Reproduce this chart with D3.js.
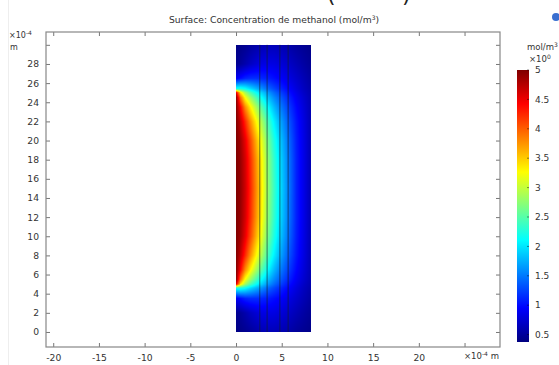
<!DOCTYPE html>
<html>
<head>
<meta charset="utf-8">
<script src="https://cdn.jsdelivr.net/npm/d3@7"></script>
<style>
  body { margin: 0; background: #fff; }
  svg text { font-family: "DejaVu Sans", sans-serif; fill: #333; }
</style>
</head>
<body>
<div id="chart"></div>
<script>
// axis ticks (units of 1e-4 m)
const xTicks = [-20, -15, -10, -5, 0, 5, 10, 15, 20, 25];
const yTicks = [0, 2, 4, 6, 8, 10, 12, 14, 16, 18, 20, 22, 24, 26, 28, 30];
const colorTicks = [0.5, 1, 1.5, 2, 2.5, 3, 3.5, 4, 4.5, 5];

// domain outline and internal layer boundaries
const domainRect = [0, 8.2, 0, 30];
const layerLines = [2.6, 3.4, 4.8, 5.7];

// concentration (mol/m3), on a sample grid
const gridX = [0, 0.5, 1, 1.6, 2.2, 2.8, 3.4, 4.2, 5, 5.8, 6.6, 7.4, 8.2];
const gridY = [0, 2, 3.5, 4.6, 5.0, 5.5, 6.5, 8, 10, 12, 15, 18, 20, 22, 23.5, 24.5, 25, 25.4, 26.5, 28, 30];
const conc = [
  [0.4, 0.42, 0.45, 0.5, 0.55, 0.6, 0.63, 0.63, 0.6, 0.56, 0.5, 0.46, 0.42],
  [0.45, 0.5, 0.58, 0.68, 0.76, 0.82, 0.84, 0.82, 0.77, 0.7, 0.62, 0.54, 0.47],
  [0.9, 1.0, 1.1, 1.15, 1.15, 1.12, 1.08, 1.0, 0.92, 0.82, 0.72, 0.62, 0.52],
  [2.2, 2.25, 2.15, 1.95, 1.78, 1.62, 1.45, 1.27, 1.1, 0.95, 0.8, 0.67, 0.56],
  [4.6, 3.4, 2.85, 2.45, 2.15, 1.9, 1.68, 1.43, 1.22, 1.02, 0.85, 0.7, 0.58],
  [5.0, 3.9, 3.25, 2.8, 2.45, 2.12, 1.86, 1.57, 1.33, 1.1, 0.9, 0.74, 0.59],
  [5.0, 4.4, 3.8, 3.3, 2.88, 2.5, 2.15, 1.78, 1.48, 1.21, 0.97, 0.78, 0.6],
  [5.0, 4.68, 4.25, 3.75, 3.3, 2.88, 2.47, 2.03, 1.66, 1.33, 1.04, 0.82, 0.6],
  [5.0, 4.84, 4.53, 4.08, 3.62, 3.17, 2.7, 2.22, 1.8, 1.43, 1.08, 0.84, 0.6],
  [5.0, 4.88, 4.62, 4.2, 3.75, 3.3, 2.81, 2.31, 1.87, 1.48, 1.1, 0.85, 0.6],
  [5.0, 4.9, 4.65, 4.25, 3.8, 3.35, 2.85, 2.35, 1.9, 1.5, 1.1, 0.85, 0.6],
  [5.0, 4.88, 4.62, 4.2, 3.75, 3.3, 2.81, 2.31, 1.87, 1.48, 1.1, 0.85, 0.6],
  [5.0, 4.84, 4.53, 4.08, 3.62, 3.17, 2.7, 2.22, 1.8, 1.43, 1.08, 0.84, 0.6],
  [5.0, 4.68, 4.25, 3.75, 3.3, 2.88, 2.47, 2.03, 1.66, 1.33, 1.04, 0.82, 0.6],
  [5.0, 4.4, 3.8, 3.3, 2.88, 2.5, 2.15, 1.78, 1.48, 1.21, 0.97, 0.78, 0.6],
  [5.0, 3.9, 3.25, 2.8, 2.45, 2.12, 1.86, 1.57, 1.33, 1.1, 0.9, 0.74, 0.59],
  [4.6, 3.4, 2.85, 2.45, 2.15, 1.9, 1.68, 1.43, 1.22, 1.02, 0.85, 0.7, 0.58],
  [2.2, 2.25, 2.15, 1.95, 1.78, 1.62, 1.45, 1.27, 1.1, 0.95, 0.8, 0.67, 0.56],
  [0.9, 1.0, 1.1, 1.15, 1.15, 1.12, 1.08, 1.0, 0.92, 0.82, 0.72, 0.62, 0.52],
  [0.45, 0.5, 0.58, 0.68, 0.76, 0.82, 0.84, 0.82, 0.77, 0.7, 0.62, 0.54, 0.47],
  [0.4, 0.42, 0.45, 0.5, 0.55, 0.6, 0.63, 0.63, 0.6, 0.56, 0.5, 0.46, 0.42]
];
const cMin = 0.374, cMax = 5.0;

const W = 559, H = 365;
const PLOT = { LEFT: 46, RIGHT: 500, TOP: 32, BOTTOM: 347 };

const svg = d3.select("#chart").append("svg")
    .attr("width", W).attr("height", H);

// scales
const x = d3.scaleLinear().domain([-20.79, 28.88]).range([PLOT.LEFT, PLOT.RIGHT]);
const y = d3.scaleLinear().domain([-1.57, 31.34]).range([PLOT.BOTTOM, PLOT.TOP]);

const jetStops = ["#00007f", "#0000ff", "#00ffff", "#ffff00", "#ff0000", "#7f0000"];
const color = d3.scaleLinear()
    .domain([0, 0.125, 0.375, 0.625, 0.875, 1].map(t => cMin + t * (cMax - cMin)))
    .range(jetStops)
    .clamp(true);

// faint panel border on the left
svg.append("line")
    .attr("x1", 8.5).attr("x2", 8.5).attr("y1", 0).attr("y2", H)
    .attr("stroke", "#eee");

// fragments of a heading cut off by the top edge
svg.append("text").attr("x", 327).attr("y", 2).attr("font-size", 22).style("fill", "#222").text("(");
svg.append("text").attr("x", 402).attr("y", 2).attr("font-size", 22).style("fill", "#222").text(")");
svg.append("circle").attr("cx", 556).attr("cy", 17).attr("r", 4).attr("fill", "#3a6fd0");

// title
const title = svg.append("text")
    .attr("x", 274).attr("y", 23)
    .attr("text-anchor", "middle")
    .attr("font-size", 9.2);
title.append("tspan").text("Surface: Concentration de methanol (mol/m");
title.append("tspan").attr("font-size", 6).attr("dy", -3.5).text("3");
title.append("tspan").attr("dy", 3.5).text(")");

// bilinear lookup on the sample grid
function sample(px, py) {
  let i = Math.min(Math.max(d3.bisectRight(gridX, px) - 1, 0), gridX.length - 2);
  let j = Math.min(Math.max(d3.bisectRight(gridY, py) - 1, 0), gridY.length - 2);
  const tx = Math.min(Math.max((px - gridX[i]) / (gridX[i + 1] - gridX[i]), 0), 1);
  const ty = Math.min(Math.max((py - gridY[j]) / (gridY[j + 1] - gridY[j]), 0), 1);
  const a = conc[j][i] * (1 - tx) + conc[j][i + 1] * tx;
  const b = conc[j + 1][i] * (1 - tx) + conc[j + 1][i + 1] * tx;
  return a * (1 - ty) + b * ty;
}

// surface image
const [x0, x1, y0, y1] = domainRect;
const sx0 = Math.round(x(x0)), sx1 = Math.round(x(x1));
const sy0 = Math.round(y(y1)), sy1 = Math.round(y(y0));
const cw = sx1 - sx0, ch = sy1 - sy0;
const canvas = document.createElement("canvas");
canvas.width = cw; canvas.height = ch;
const ctx = canvas.getContext("2d");
const img = ctx.createImageData(cw, ch);
for (let r = 0; r < ch; r++) {
  for (let c = 0; c < cw; c++) {
    const v = sample(x.invert(sx0 + c + 0.5), y.invert(sy0 + r + 0.5));
    const col = d3.rgb(color(v));
    const k = (r * cw + c) * 4;
    img.data[k] = col.r; img.data[k + 1] = col.g; img.data[k + 2] = col.b; img.data[k + 3] = 255;
  }
}
ctx.putImageData(img, 0, 0);
svg.append("image")
    .attr("x", sx0).attr("y", sy0)
    .attr("width", cw).attr("height", ch)
    .attr("preserveAspectRatio", "none")
    .attr("href", canvas.toDataURL());

// layer boundaries
svg.selectAll("line.layer")
  .data(layerLines)
  .enter().append("line")
    .attr("class", "layer")
    .attr("x1", d => x(d)).attr("x2", d => x(d))
    .attr("y1", y(y0)).attr("y2", y(y1))
    .attr("stroke", "rgba(20,30,40,0.6)")
    .attr("stroke-width", 1);

// axes, ticks pointing inward
function styleAxis(g) {
  g.select(".domain").remove();
  g.selectAll(".tick line").attr("stroke", "#777");
  g.selectAll(".tick text").attr("font-size", 9.2).attr("fill", "#333");
}
svg.append("g")
    .attr("transform", `translate(0,${PLOT.BOTTOM})`)
    .call(d3.axisBottom(x).tickValues(xTicks).tickSize(-4).tickPadding(7)
      .tickFormat(d => d === 25 ? "" : d))
    .call(styleAxis);
svg.append("g")
    .attr("transform", `translate(0,${PLOT.TOP})`)
    .call(d3.axisTop(x).tickValues(xTicks).tickSize(-4).tickFormat(""))
    .call(styleAxis);
svg.append("g")
    .attr("transform", `translate(${PLOT.LEFT},0)`)
    .call(d3.axisLeft(y).tickValues(yTicks).tickSize(-4).tickPadding(7)
      .tickFormat(d => d === 30 ? "" : d))
    .call(styleAxis);
svg.append("g")
    .attr("transform", `translate(${PLOT.RIGHT},0)`)
    .call(d3.axisRight(y).tickValues(yTicks).tickSize(-4).tickFormat(""))
    .call(styleAxis);

svg.append("rect")
    .attr("x", PLOT.LEFT).attr("y", PLOT.TOP)
    .attr("width", PLOT.RIGHT - PLOT.LEFT).attr("height", PLOT.BOTTOM - PLOT.TOP)
    .attr("fill", "none").attr("stroke", "#888").attr("stroke-width", 1.2);

// axis unit labels
const yl = svg.append("text").attr("x", 9).attr("y", 38).attr("font-size", 8);
yl.append("tspan").text("×10");
yl.append("tspan").attr("font-size", 6).attr("dy", -3.5).text("-4");
svg.append("text").attr("x", 10).attr("y", 50).attr("font-size", 8).text("m");

const xl = svg.append("text").attr("x", 464).attr("y", 359).attr("font-size", 8.5);
xl.append("tspan").text("×10");
xl.append("tspan").attr("font-size", 6).attr("dy", -3.5).text("-4");
xl.append("tspan").attr("dy", 3.5).text(" m");

// colour bar
const cb = { X: 517, W: 12, TOP: 70, BOTTOM: 342 };
const cy = d3.scaleLinear().domain([cMin, cMax]).range([cb.BOTTOM, cb.TOP]);
const grad = svg.append("defs").append("linearGradient")
    .attr("id", "cbar").attr("x1", 0).attr("y1", 1).attr("x2", 0).attr("y2", 0);
grad.selectAll("stop")
  .data(color.domain())
  .enter().append("stop")
    .attr("offset", d => (d - cMin) / (cMax - cMin))
    .attr("stop-color", d => color(d));
svg.append("rect")
    .attr("x", cb.X).attr("y", cb.TOP)
    .attr("width", cb.W).attr("height", cb.BOTTOM - cb.TOP)
    .attr("fill", "url(#cbar)");
svg.selectAll("line.cbtick")
  .data(colorTicks)
  .enter().append("line")
    .attr("class", "cbtick")
    .attr("x1", cb.X + cb.W - 2).attr("x2", cb.X + cb.W)
    .attr("y1", d => cy(d)).attr("y2", d => cy(d))
    .attr("stroke", "rgba(0,0,0,0.45)");
svg.selectAll("text.cblabel")
  .data(colorTicks)
  .enter().append("text")
    .attr("class", "cblabel")
    .attr("x", cb.X + cb.W + 6)
    .attr("y", d => cy(d))
    .attr("dy", "0.35em")
    .attr("font-size", 9)
    .text(d => d);

const cu = svg.append("text").attr("x", 527).attr("y", 50).attr("font-size", 8.5);
cu.append("tspan").text("mol/m");
cu.append("tspan").attr("font-size", 6).attr("dy", -3.5).text("3");
const cs = svg.append("text").attr("x", 529).attr("y", 62).attr("font-size", 8.5);
cs.append("tspan").text("×10");
cs.append("tspan").attr("font-size", 6).attr("dy", -3.5).text("0");
</script>
</body>
</html>
